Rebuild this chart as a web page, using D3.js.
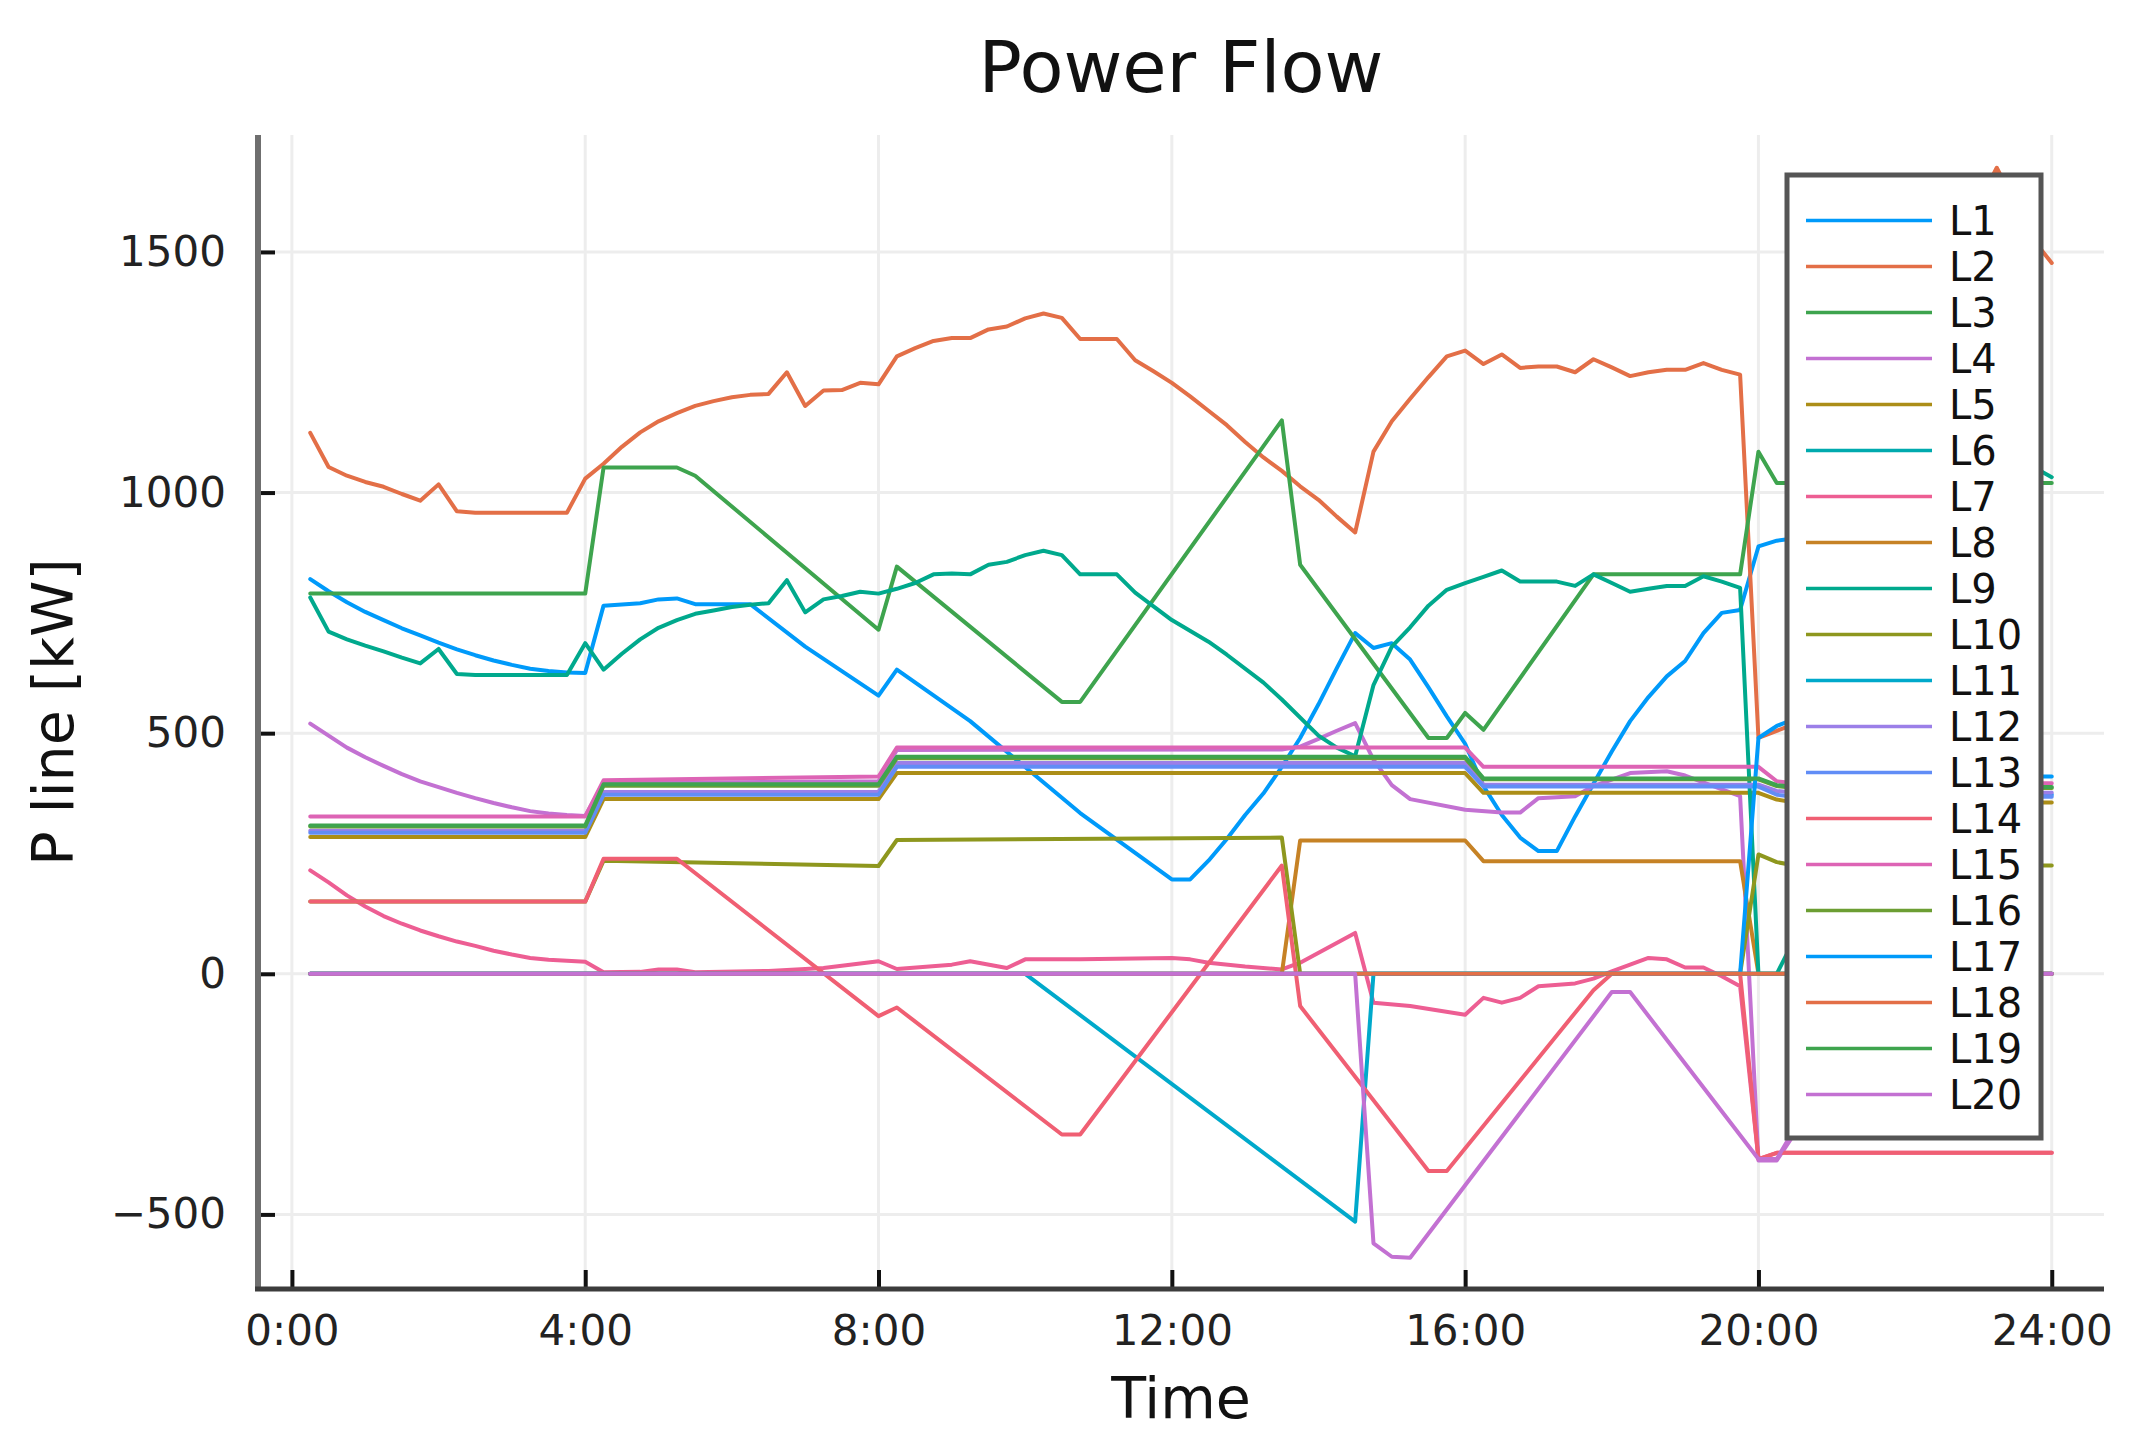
<!DOCTYPE html>
<html><head><meta charset="utf-8">
<script src="https://cdn.jsdelivr.net/npm/d3@7"></script>
<style>body{margin:0;background:#fff}</style>
</head><body><svg id="chart" width="2145" height="1451"></svg>
<script>
// ---------- data ----------
const seriesNames = ["L1","L2","L3","L4","L5","L6","L7","L8","L9","L10","L11","L12","L13","L14","L15","L16","L17","L18","L19","L20"];
const palette = ["#009AFA","#E36F47","#3EA44E","#C371D2","#AC8E18","#00AAAE","#ED5E93","#C68225","#00A98D","#8E971E","#00A9CB","#9B7FE8","#618DF6","#F05F73","#DD64B5","#6C9E33","#009AFA","#E36F47","#3EA44E","#C371D2"];
const xTickHours = [0,4,8,12,16,20,24];
const xTickLabels = ["0:00","4:00","8:00","12:00","16:00","20:00","24:00"];
const yTickValues = [-500,0,500,1000,1500];

// each series: [hour, P line kW] points
const L1 = [[0.25,820],[0.5,795],[0.75,772],[1,752],[1.25,735],[1.5,718],[1.75,703],[2,688],[2.25,674],[2.5,662],[2.75,651],[3,642],[3.25,634],[3.5,629],[3.75,626],[4,625],[4.25,765],[4.75,770],[5,778],[5.25,780],[5.5,768],[6.25,768],[7,680],[8,578],[8.25,632],[9.25,525],[10.75,334],[12,196],[12.25,196],[12.5,235],[12.75,280],[13,330],[13.25,375],[13.5,430],[13.75,490],[14,560],[14.25,635],[14.5,708],[14.75,677],[15,687],[15.25,653],[15.5,595],[15.75,535],[16,478],[16.25,390],[16.5,330],[16.75,283],[17,255],[17.25,255],[17.5,327],[17.75,395],[18,462],[18.25,525],[18.5,575],[18.75,618],[19,650],[19.25,708],[19.5,750],[19.75,756],[20,888],[20.25,900],[20.5,905],[23.75,372],[24,372]];
const L2 = [[0.25,1124],[0.5,1053],[0.75,1035],[1,1022],[1.25,1012],[1.5,997],[1.75,983],[2,1017],[2.25,961],[2.5,958],[3.75,958],[4,1029],[4.25,1060],[4.5,1095],[4.75,1125],[5,1148],[5.25,1165],[5.5,1180],[5.75,1190],[6,1198],[6.25,1203],[6.5,1205],[6.75,1250],[7,1180],[7.25,1212],[7.5,1213],[7.75,1228],[8,1225],[8.25,1283],[8.5,1300],[8.75,1315],[9,1321],[9.25,1321],[9.5,1339],[9.75,1345],[10,1362],[10.25,1372],[10.5,1363],[10.75,1319],[11.25,1319],[11.5,1275],[11.75,1252],[12,1228],[12.25,1200],[12.5,1170],[12.75,1140],[13,1105],[13.25,1073],[13.5,1045],[13.75,1013],[14,985],[14.25,950],[14.5,917],[14.75,1085],[15,1148],[15.25,1195],[15.5,1240],[15.75,1283],[16,1295],[16.25,1267],[16.5,1287],[16.75,1259],[17,1262],[17.25,1262],[17.5,1250],[17.75,1277],[18,1260],[18.25,1242],[18.5,1250],[18.75,1255],[19,1255],[19.25,1269],[19.5,1255],[19.75,1245],[20,490],[20.25,505],[20.5,520],[23,1600],[23.25,1675],[23.5,1600],[23.75,1525],[24,1477]];
const L3 = [[0.25,790],[4,790],[4.25,1052],[5.25,1052],[5.5,1035],[8,715],[8.25,846],[10.5,565],[10.75,565],[13.5,1150],[13.75,850],[15.5,490],[15.75,490],[16,542],[16.25,507],[17.75,830],[19.75,830],[20,1085],[20.25,1020],[24,1020]];
const L4 = [[0.25,520],[0.5,495],[0.75,470],[1,450],[1.25,432],[1.5,415],[1.75,400],[2,388],[2.25,376],[2.5,365],[2.75,355],[3,346],[3.25,338],[3.5,333],[3.75,330],[4,328],[4.25,396],[8,400],[8.25,465],[13.5,466],[13.75,472],[14,488],[14.25,505],[14.5,521],[14.75,445],[15,392],[15.25,363],[16,341],[16.5,335],[16.75,335],[17,365],[17.5,369],[17.75,390],[18.25,417],[18.75,421],[19,412],[19.75,369],[20,-388],[20.25,-388],[20.5,-330],[21,0],[24,0]];
const L5 = [[0.25,284],[4,284],[4.25,363],[8,363],[8.25,417],[16,417],[16.25,376],[20,376],[20.25,362],[20.5,356],[24,356]];
const L6 = [[0.25,0],[24,0]];
const L7 = [[0.25,215],[0.5,190],[0.75,163],[1,140],[1.25,120],[1.5,104],[1.75,90],[2,78],[2.25,67],[2.5,58],[2.75,48],[3,40],[3.25,33],[3.5,29],[3.75,27],[4,25],[4.25,3],[4.75,4],[5,9],[5.25,9],[5.5,3],[6.5,6],[7.25,12],[8,26],[8.25,10],[9,19],[9.25,26],[9.75,12],[10,30],[10.75,30],[12,33],[12.25,30],[12.5,23],[13,15],[13.5,9],[13.75,23],[14.5,85],[14.75,-60],[15.25,-67],[16,-85],[16.25,-50],[16.5,-60],[16.75,-50],[17,-26],[17.5,-20],[17.75,-10],[18,5],[18.25,19],[18.5,33],[18.75,30],[19,13],[19.25,13],[19.5,-5],[19.75,-26],[20,-385],[20.25,-372],[24,-372]];
const L8 = [[0.25,0],[13.5,0],[13.75,277],[16,277],[16.25,234],[19.75,234],[20,0],[24,0]];
const L9 = [[0.25,782],[0.5,711],[0.75,695],[1,682],[1.25,670],[1.5,657],[1.75,645],[2,675],[2.25,623],[2.5,621],[3.75,621],[4,687],[4.25,632],[4.5,665],[4.75,695],[5,719],[5.25,735],[5.5,748],[5.75,755],[6,762],[6.25,767],[6.5,770],[6.75,818],[7,751],[7.25,778],[7.5,785],[7.75,794],[8,790],[8.25,800],[8.5,812],[8.75,830],[9,832],[9.25,830],[9.5,850],[9.75,856],[10,870],[10.25,879],[10.5,870],[10.75,830],[11.25,830],[11.5,792],[12,735],[12.5,690],[12.75,663],[13.25,605],[13.5,570],[14,495],[14.25,470],[14.5,452],[14.75,600],[15,680],[15.25,720],[15.5,765],[15.75,798],[16,812],[16.25,825],[16.5,838],[16.75,815],[17.25,815],[17.5,806],[17.75,830],[18,812],[18.25,794],[18.5,800],[18.75,806],[19,806],[19.25,826],[19.5,815],[19.75,802],[20,0],[20.25,0],[23.75,1053],[24,1032]];
const L10 = [[0.25,150],[4,150],[4.25,235],[8,224],[8.25,278],[13.5,283],[13.75,0],[19.75,0],[20,248],[20.25,232],[20.5,225],[24,225]];
const L11 = [[0.25,0],[10,0],[14.5,-515],[14.75,0],[24,0]];
const L12 = [[0.25,297],[4,297],[4.25,378],[8,378],[8.25,438],[16,438],[16.25,393],[20,393],[20.25,380],[20.5,376],[24,376]];
const L13 = [[0.25,293],[4,293],[4.25,372],[8,372],[8.25,430],[16,430],[16.25,389],[20,389],[20.25,372],[20.5,368],[24,368]];
const L14 = [[0.25,150],[4,150],[4.25,239],[5.25,239],[8,-88],[8.25,-70],[10.5,-334],[10.75,-334],[13.5,225],[13.75,-67],[15.5,-410],[15.75,-410],[17.75,-34],[18,0],[19.75,0],[20,-385],[20.25,-372],[24,-372]];
const L15 = [[0.25,327],[4,327],[4.25,402],[8,410],[8.25,470],[16,470],[16.25,430],[20,430],[20.25,400],[20.5,396],[24,396]];
const L16 = [[0.25,306],[4,306],[4.25,391],[8,391],[8.25,448],[16,448],[16.25,404],[20,404],[20.25,390],[20.5,386],[24,386]];
const L17 = [[0.25,0],[19.75,0],[20,490],[20.25,515],[20.5,530],[23.75,410],[24,410]];
const L18 = [[0.25,0],[24,0]];
const L19 = [[0.25,308],[4,308],[4.25,394],[8,394],[8.25,451],[16,451],[16.25,406],[20,406],[20.25,392],[20.5,388],[24,388]];
const L20 = [[0.25,0],[14.5,0],[14.75,-560],[15,-588],[15.25,-590],[18,-38],[18.25,-38],[20,-385],[20.25,-385],[20.5,-320],[21.5,0],[24,0]];

const seriesData = [L1,L2,L3,L4,L5,L6,L7,L8,L9,L10,L11,L12,L13,L14,L15,L16,L17,L18,L19,L20];

// ---------- layout ----------
const plot = {left:258, right:2104, top:135, bottom:1289};
const svg = d3.select("#chart");
const FONT = "'DejaVu Sans', sans-serif";

const x = d3.scaleLinear().domain([-0.4625, 24.7125]).range([plot.left, plot.right]);
const y = d3.scaleLinear().domain([-655, 1743]).range([plot.bottom, plot.top]);

svg.append("rect").attr("width",2145).attr("height",1451).attr("fill","#fff");

// grid
const grid = svg.append("g");
grid.selectAll("line.gx").data(xTickHours).join("line")
  .attr("x1", d=>x(d)).attr("x2", d=>x(d)).attr("y1", plot.top).attr("y2", plot.bottom)
  .attr("stroke","#ededed").attr("stroke-width",3);
grid.selectAll("line.gy").data(yTickValues).join("line")
  .attr("y1", d=>y(d)).attr("y2", d=>y(d)).attr("x1", plot.left).attr("x2", plot.right)
  .attr("stroke","#ededed").attr("stroke-width",3);

// series lines
const line = d3.line().x(d=>x(d[0])).y(d=>y(d[1]));
svg.append("g").selectAll("path").data(seriesData).join("path")
  .attr("d", line).attr("fill","none")
  .attr("stroke", (d,i)=>palette[i]).attr("stroke-width",4)
  .attr("stroke-linejoin","round").attr("stroke-linecap","round");

// axes
const yAxis = d3.axisLeft(y).tickValues(yTickValues).tickFormat(d3.format("d"))
  .tickSizeInner(-17).tickSizeOuter(0).tickPadding(32);
const gy = svg.append("g").attr("transform",`translate(${plot.left},0)`).call(yAxis);
const xAxis = d3.axisBottom(x).tickValues(xTickHours).tickFormat((d,i)=>xTickLabels[i])
  .tickSizeInner(-19).tickSizeOuter(0).tickPadding(26);
const gx = svg.append("g").attr("transform",`translate(0,${plot.bottom})`).call(xAxis);
[gx,gy].forEach(g=>{
  g.select(".domain").remove();
  g.selectAll(".tick line").attr("stroke","#111").attr("stroke-width",4);
  g.selectAll(".tick text").attr("font-family",FONT).attr("font-size",42).attr("fill","#222");
});
svg.append("line").attr("x1",plot.left).attr("x2",plot.left).attr("y1",plot.top).attr("y2",plot.bottom)
  .attr("stroke","#6f6f6f").attr("stroke-width",6);
svg.append("line").attr("x1",plot.left-3).attr("x2",plot.right).attr("y1",plot.bottom).attr("y2",plot.bottom)
  .attr("stroke","#3c3c3c").attr("stroke-width",5);

// titles
svg.append("text").attr("x",(plot.left+plot.right)/2).attr("y",92).attr("text-anchor","middle")
  .attr("font-family",FONT).attr("font-size",72).attr("fill","#111").text("Power Flow");
svg.append("text").attr("x",(plot.left+plot.right)/2).attr("y",1418).attr("text-anchor","middle")
  .attr("font-family",FONT).attr("font-size",57).attr("fill","#111").text("Time");
svg.append("text").attr("transform",`translate(73,${(plot.top+plot.bottom)/2}) rotate(-90)`).attr("text-anchor","middle")
  .attr("font-family",FONT).attr("font-size",57).attr("fill","#111").text("P line [kW]");

// legend
const lg = svg.append("g");
lg.append("rect").attr("x",1787).attr("y",175).attr("width",254).attr("height",963)
  .attr("fill","#fff").attr("stroke","#555").attr("stroke-width",5);
const items = lg.selectAll("g.item").data(seriesNames).join("g")
  .attr("transform",(d,i)=>`translate(0,${220.5+46*i})`);
items.append("line").attr("x1",1806).attr("x2",1932).attr("y1",0).attr("y2",0)
  .attr("stroke",(d,i)=>palette[i]).attr("stroke-width",3.5);
items.append("text").attr("x",1949).attr("y",0).attr("dy","0.36em")
  .attr("font-family",FONT).attr("font-size",40).attr("fill","#111").text(d=>d);
</script>
</body></html>
